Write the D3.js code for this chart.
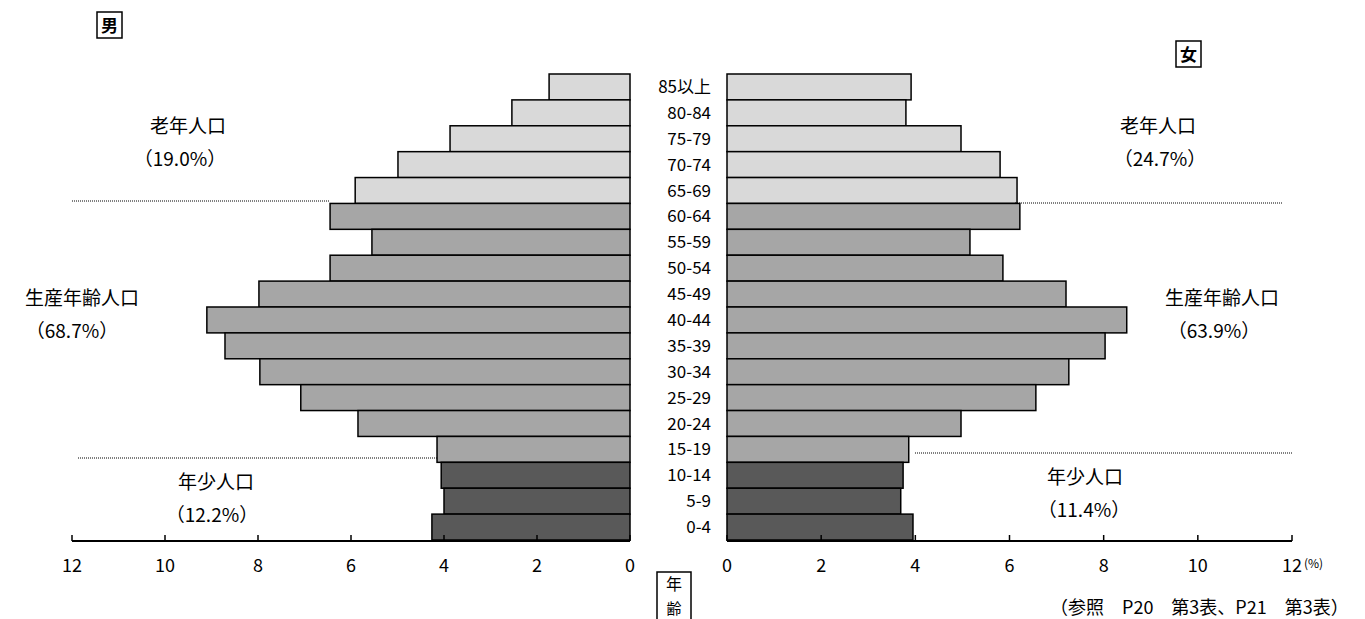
<!DOCTYPE html>
<html><head><meta charset="utf-8">
<script src="https://cdn.jsdelivr.net/npm/d3@7"></script>
<style>body{margin:0;background:#fff}svg{display:block}</style>
</head><body>
<script>
const ages = ["85以上","80-84","75-79","70-74","65-69","60-64","55-59","50-54","45-49","40-44","35-39","30-34","25-29","20-24","15-19","10-14","5-9","0-4"];
const male = [1.74,2.54,3.87,4.99,5.91,6.45,5.55,6.45,7.98,9.1,8.71,7.96,7.08,5.85,4.15,4.06,4.0,4.26];
const female = [3.91,3.80,4.97,5.80,6.16,6.22,5.16,5.86,7.2,8.49,8.03,7.26,6.56,4.97,3.86,3.74,3.69,3.95];
const groups = ["old","old","old","old","old","work","work","work","work","work","work","work","work","work","work","young","young","young"];
const ticks = [0,2,4,6,8,10,12];
const colors = {old:"#d9d9d9", work:"#a6a6a6", young:"#595959"};

const svg = d3.select("body").append("svg").attr("width",1365).attr("height",619);
const serif = "'Noto Sans CJK JP', sans-serif";
const sans = "'Liberation Sans Narrow','Noto Sans CJK JP', sans-serif";

const y = d3.scaleBand().domain(ages).range([74,540]).padding(0);
const xL = d3.scaleLinear().domain([0,12]).range([630,72]);
const xR = d3.scaleLinear().domain([0,12]).range([727,1292]);

svg.append("g").selectAll("rect").data(ages).join("rect")
  .attr("x",(d,i)=>xL(male[i])).attr("y",d=>y(d))
  .attr("width",(d,i)=>xL(0)-xL(male[i])).attr("height",y.bandwidth())
  .attr("fill",(d,i)=>colors[groups[i]]).attr("stroke","#000").attr("stroke-width",1.5);
svg.append("g").selectAll("rect").data(ages).join("rect")
  .attr("x",xR(0)).attr("y",d=>y(d))
  .attr("width",(d,i)=>xR(female[i])-xR(0)).attr("height",y.bandwidth())
  .attr("fill",(d,i)=>colors[groups[i]]).attr("stroke","#000").attr("stroke-width",1.5);

svg.append("g").selectAll("text").data(ages).join("text")
  .attr("x",711).attr("y",d=>y(d)+y.bandwidth()/2+6).attr("text-anchor","end")
  .attr("font-family",sans).attr("font-size",17).text(d=>d);

function axis(sc){
  const g = svg.append("g").attr("transform","translate(0,541)");
  g.append("line").attr("x1",sc(0)).attr("x2",sc(12)).attr("stroke","#000").attr("stroke-width",2);
  g.selectAll("line.t").data(ticks).join("line").attr("class","t")
    .attr("x1",d=>sc(d)).attr("x2",d=>sc(d)).attr("y1",0).attr("y2",-6).attr("stroke","#000").attr("stroke-width",1.5);
  g.selectAll("text").data(ticks).join("text").attr("x",d=>sc(d)).attr("y",31)
    .attr("text-anchor","middle").attr("font-family",sans).attr("font-size",18).text(d=>d);
}
axis(xL); axis(xR);
svg.append("text").attr("x",1304).attr("y",568).attr("font-family",serif).attr("font-size",12).text("(%)");

const dots = [[72,330,201],[78,437,458],[1015,1283,203],[915,1292,453]];
svg.selectAll("line.d").data(dots).join("line").attr("class","d")
  .attr("x1",d=>d[0]).attr("x2",d=>d[1]).attr("y1",d=>d[2]).attr("y2",d=>d[2])
  .attr("stroke","#000").attr("stroke-width",1).attr("stroke-dasharray","1,1");

const labels = [[188,133,"老年人口"],[180,166,"（19.0%）"],[82,305,"生産年齢人口"],[72,338,"（68.7%）"],
  [216,489,"年少人口"],[212,522,"（12.2%）"],[1158,133,"老年人口"],[1160,166,"（24.7%）"],
  [1222,305,"生産年齢人口"],[1214,338,"（63.9%）"],[1085,484,"年少人口"],[1084,517,"（11.4%）"]];
svg.selectAll("text.l").data(labels).join("text").attr("class","l")
  .attr("x",d=>d[0]).attr("y",d=>d[1]).attr("text-anchor","middle")
  .attr("font-family",serif).attr("font-size",19).text(d=>d[2]);

const boxes = [[97,12,"男"],[1176,41,"女"]];
boxes.forEach(b=>{
  svg.append("rect").attr("x",b[0]).attr("y",b[1]).attr("width",25).attr("height",26).attr("fill","none").attr("stroke","#000").attr("stroke-width",1.5);
  svg.append("text").attr("x",b[0]+12.5).attr("y",b[1]+20).attr("text-anchor","middle").attr("font-family",serif).attr("font-size",17).attr("font-weight","bold").text(b[2]);
});
svg.append("rect").attr("x",657).attr("y",572).attr("width",34).attr("height",60).attr("fill","none").attr("stroke","#000").attr("stroke-width",1.5);
svg.append("text").attr("x",674).attr("y",590).attr("text-anchor","middle").attr("font-family",serif).attr("font-size",16).text("年");
svg.append("text").attr("x",674).attr("y",614).attr("text-anchor","middle").attr("font-family",serif).attr("font-size",15).text("齢");
svg.append("text").attr("x",1050).attr("y",614).attr("font-family",serif).attr("font-size",18).text("（参照　P20　第3表、P21　第3表）");
</script>
</body></html>
